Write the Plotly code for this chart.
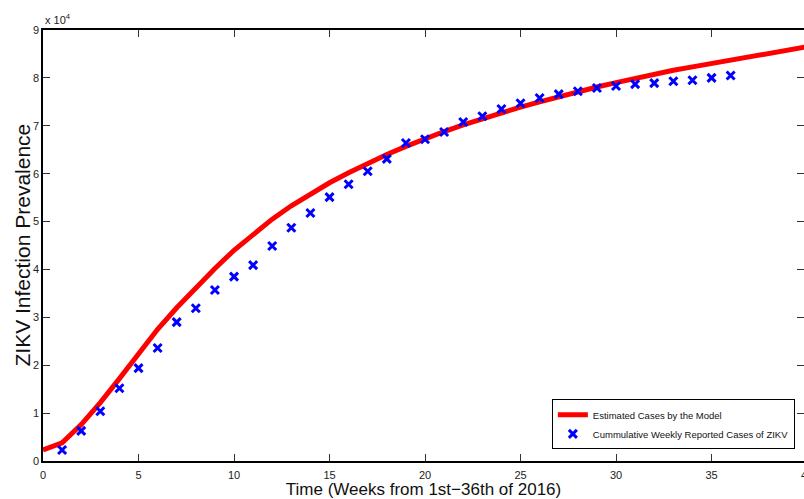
import plotly.graph_objects as go

# Model curve (estimated cases), weeks 0..40, values in cases
model_weeks = list(range(0, 41))
model_cases = [2300, 3800, 7600, 12200, 17200, 22500, 27500, 32000, 36200, 40200,
               44000, 47400, 50500, 53300, 55800, 58100, 60200, 62200, 64000, 65700,
               67300, 68800, 70200, 71500, 72700, 73900, 75000, 76100, 77100, 78100,
               79000, 79900, 80700, 81600, 82300, 83000, 83700, 84400, 85100, 85800,
               86500]

# Cumulative weekly reported cases, weeks 1..36
rep_weeks = list(range(1, 37))
rep_cases = [2300, 6300, 10400, 15200, 19400, 23600, 29000, 31900, 35700, 38500,
             40900, 44900, 48700, 51800, 55100, 57800, 60500, 63100, 66400, 67200,
             68700, 70800, 72000, 73500, 74700, 75800, 76600, 77200, 77900, 78300,
             78700, 78900, 79300, 79500, 80000, 80500]

x_range = [0, 39.84]
x_ticks = [0, 5, 10, 15, 20, 25, 30, 35]
x_edge_label = 40
y_tickvals = [0, 10000, 20000, 30000, 40000, 50000, 60000, 70000, 80000, 90000]
y_ticktext = ["0", "1", "2", "3", "4", "5", "6", "7", "8", "9"]

FONT = "Liberation Sans, Arial, sans-serif"
TICKFONT = dict(family=FONT, size=11, color="#222")

fig = go.Figure()
fig.add_trace(go.Scatter(
    x=model_weeks, y=model_cases, mode="lines",
    name="Estimated Cases by the Model",
    line=dict(color="#FF0000", width=5),
))
fig.add_trace(go.Scatter(
    x=rep_weeks, y=rep_cases, mode="markers",
    name="Cummulative Weekly Reported Cases of ZIKV",
    marker=dict(symbol="x-thin", size=8, color="#0000FF",
                line=dict(color="#0000FF", width=3)),
))
# invisible trace to carry the right-hand tick axis
fig.add_trace(go.Scatter(x=[0], y=[0], yaxis="y2", mode="markers",
                         marker=dict(opacity=0), showlegend=False, hoverinfo="skip"))

fig.update_layout(
    width=804, height=499,
    margin=dict(l=43, r=0, t=30, b=38),
    paper_bgcolor="white", plot_bgcolor="white",
    font=dict(family=FONT, color="#111"),
    xaxis=dict(range=x_range, tickvals=x_ticks,
               showgrid=False, zeroline=False, showline=True, linecolor="black",
               linewidth=1.5, mirror="ticks", ticks="inside", ticklen=7,
               tickcolor="#333", tickwidth=1, tickfont=TICKFONT,
               ticklabelstandoff=3,
               title=dict(text="Time (Weeks from 1st\u221236th of 2016)",
                          font=dict(family=FONT, size=17, color="#111"), standoff=1)),
    yaxis=dict(range=[0, 90000], tickvals=y_tickvals, ticktext=y_ticktext,
               showgrid=False, zeroline=False, showline=True, linecolor="black",
               linewidth=1.5, mirror=False, ticks="inside", ticklen=7,
               tickcolor="#333", tickwidth=1, tickfont=TICKFONT),
    yaxis2=dict(range=[0, 90000], tickvals=y_tickvals, overlaying="y", side="right",
                showgrid=False, zeroline=False, showline=False, showticklabels=False,
                ticks="inside", ticklen=7, tickcolor="#333", tickwidth=1),
    legend=dict(x=0.988, y=0.027, xanchor="right", yanchor="bottom",
                bgcolor="white", bordercolor="black", borderwidth=1,
                font=dict(family=FONT, size=9.5, color="#111"),
                tracegroupgap=0, itemwidth=30),
    showlegend=True,
    annotations=[
        dict(text="ZIKV Infection Prevalence", xref="paper", yref="paper",
             x=0, y=0.5, xanchor="center", yanchor="middle", xshift=-21,
             textangle=-90, showarrow=False,
             font=dict(family=FONT, size=21, color="#111")),
        dict(text="x 10<sup>4</sup>", xref="paper", yref="paper", x=0, y=1,
             xanchor="left", yanchor="bottom", yshift=2, showarrow=False,
             font=TICKFONT),
        dict(text=str(x_edge_label), xref="paper", yref="paper",
             x=(x_edge_label - x_range[0]) / (x_range[1] - x_range[0]), y=0,
             xanchor="center", yanchor="top", yshift=-6, showarrow=False,
             font=TICKFONT),
    ],
)

fig.write_html("out.html")
